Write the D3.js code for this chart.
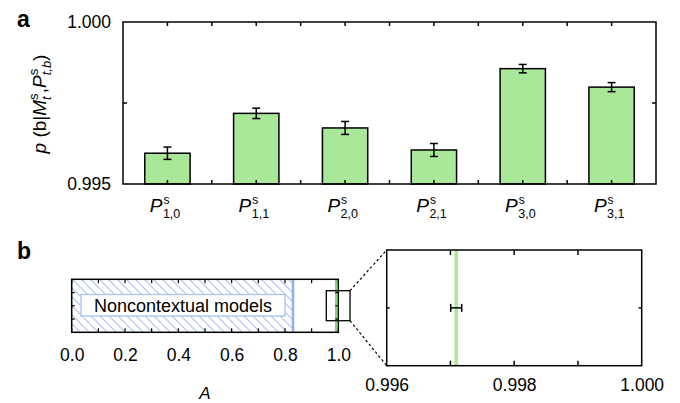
<!DOCTYPE html>
<html lang="en">
<head>
<meta charset="UTF-8">
<title>Contextuality bars</title>
<script src="https://cdn.jsdelivr.net/npm/d3@7"></script>
<style>
  body { margin: 0; background: #fff; }
  text { font-family: "Liberation Sans", Arial, Helvetica, sans-serif; fill: #000; }
</style>
</head>
<body>
<div id="chart"></div>
<script>
// panel a data
const cats = ["1,0", "1,1", "2,0", "2,1", "3,0", "3,1"];
const probs = [0.99595, 0.99718, 0.99673, 0.99605, 0.99856, 0.99799];
const errs = [0.00019, 0.00016, 0.00020, 0.00020, 0.00013, 0.00014];
const yTicks = [0.995, 1.000];
const yMinor = [0.9975];

// panel b data
const aValue = 0.99709;
const aErr = 0.000086;
const ncBound = 0.83;
const bTicks = [0.0, 0.2, 0.4, 0.6, 0.8, 1.0];
const bMinor = [0.0, 0.1, 0.2, 0.3, 0.4, 0.5, 0.6, 0.7, 0.8, 0.9, 1.0];
const zoomRange = [0.955, 1.044];
const insetTicks = [0.996, 0.998, 1.000];
const insetMinor = [0.997, 0.998, 0.999];

const W = 680, H = 403;
const green = "#a8e898", blue = "#8fb0f2", hatch = "#a9c0f4";

const svg = d3.select("#chart").append("svg")
  .attr("width", W).attr("height", H);

const defs = svg.append("defs");
defs.append("pattern")
  .attr("id", "hatch")
  .attr("patternUnits", "userSpaceOnUse")
  .attr("width", 9).attr("height", 9)
  .append("path")
  .attr("d", "M0,0L9,9M-3,6L3,12M6,-3L12,3")
  .attr("stroke", hatch)
  .attr("stroke-width", 1.1);

// ---------- panel a ----------
const A = { left: 123, right: 656, top: 22, bottom: 184 };

const x = d3.scaleBand().domain(cats).range([A.left, A.right]).paddingInner(0.49).paddingOuter(0.245);
const y = d3.scaleLinear().domain([0.995, 1.000]).range([A.bottom, A.top]);

svg.append("text").attr("x", 17).attr("y", 27)
  .style("font-size", "23px").style("font-weight", "bold").text("a");

// bars
svg.append("g").selectAll("rect")
  .data(probs)
  .join("rect")
  .attr("x", (d, i) => x(cats[i]))
  .attr("y", d => y(d))
  .attr("width", x.bandwidth())
  .attr("height", d => y(0.995) - y(d))
  .attr("fill", green)
  .attr("stroke", "#000")
  .attr("stroke-width", 1.5);

// error bars
const eb = svg.append("g").attr("stroke", "#000").attr("stroke-width", 1.5);
probs.forEach((p, i) => {
  const cx = x(cats[i]) + x.bandwidth() / 2;
  eb.append("line").attr("x1", cx).attr("x2", cx).attr("y1", y(p - errs[i])).attr("y2", y(p + errs[i]));
  eb.append("line").attr("x1", cx - 4).attr("x2", cx + 4).attr("y1", y(p - errs[i])).attr("y2", y(p - errs[i]));
  eb.append("line").attr("x1", cx - 4).attr("x2", cx + 4).attr("y1", y(p + errs[i])).attr("y2", y(p + errs[i]));
});

// frame
svg.append("rect")
  .attr("x", A.left).attr("y", A.top)
  .attr("width", A.right - A.left).attr("height", A.bottom - A.top)
  .attr("fill", "none").attr("stroke", "#000").attr("stroke-width", 1.5);

// inward ticks at band centres and boundaries
const half = x.step() / 2;
const xTickPos = [];
cats.forEach(c => { xTickPos.push(x(c) + x.bandwidth() / 2); xTickPos.push(x(c) + x.bandwidth() / 2 + half); });
const tk = svg.append("g").attr("stroke", "#000").attr("stroke-width", 1.5);
xTickPos.filter(v => v < A.right - 2).forEach(v => {
  tk.append("line").attr("x1", v).attr("x2", v).attr("y1", A.bottom).attr("y2", A.bottom - 4);
  tk.append("line").attr("x1", v).attr("x2", v).attr("y1", A.top).attr("y2", A.top + 4);
});
yMinor.forEach(v => {
  tk.append("line").attr("x1", A.left).attr("x2", A.left + 4).attr("y1", y(v)).attr("y2", y(v));
  tk.append("line").attr("x1", A.right).attr("x2", A.right - 4).attr("y1", y(v)).attr("y2", y(v));
});

// y labels
const yAxis = svg.append("g")
  .attr("transform", "translate(" + A.left + ",0)")
  .call(d3.axisLeft(y).tickValues(yTicks).tickFormat(d3.format(".3f")).tickSize(0).tickPadding(12));
yAxis.select(".domain").remove();
yAxis.selectAll("text").style("font-size", "17.5px").style("font-family", "Liberation Sans, Arial, sans-serif");

// x labels P^s_{t,b}: main letter, superscript and subscript as separate texts
cats.forEach(c => {
  const cx = x(c) + x.bandwidth() / 2;
  svg.append("text")
    .attr("x", cx - 5).attr("y", 212)
    .attr("text-anchor", "end")
    .style("font-size", "19px").style("font-style", "italic")
    .text("P");
  svg.append("text")
    .attr("x", cx - 4).attr("y", 204)
    .style("font-size", "12px")
    .text("s");
  svg.append("text")
    .attr("x", cx - 4.5).attr("y", 218)
    .style("font-size", "12.5px")
    .text(c);
});

// y title
const yt = svg.append("text")
  .attr("transform", "translate(46,104) rotate(-90)")
  .attr("text-anchor", "middle")
  .style("font-size", "19px");
yt.append("tspan").style("font-style", "italic").text("p");
yt.append("tspan").text(" (b|");
yt.append("tspan").style("font-style", "italic").text("M");
yt.append("tspan").attr("dy", -8).style("font-size", "13px").text("s");
yt.append("tspan").attr("dx", -6.5).attr("dy", 13).style("font-size", "13px").style("font-style", "italic").text("t");
yt.append("tspan").attr("dx", 3).attr("dy", -5).text(",");
yt.append("tspan").style("font-style", "italic").text("P");
yt.append("tspan").attr("dy", -8).style("font-size", "13px").text("s");
yt.append("tspan").attr("dx", -6.5).attr("dy", 13).style("font-size", "13px").style("font-style", "italic").text("t,b");
yt.append("tspan").attr("dy", -5).text(")");

// ---------- panel b ----------
svg.append("text").attr("x", 17).attr("y", 259)
  .style("font-size", "23px").style("font-weight", "bold").text("b");

const B = { left: 71.7, right: 338.3, top: 279.3, bottom: 332.3 };
const xb = d3.scaleLinear().domain([0, 1]).range([B.left, B.right]);

// hatched noncontextual region
svg.append("rect")
  .attr("x", xb(0)).attr("y", B.top)
  .attr("width", xb(ncBound) - xb(0)).attr("height", B.bottom - B.top)
  .attr("fill", "url(#hatch)");
svg.append("line")
  .attr("x1", xb(ncBound)).attr("x2", xb(ncBound))
  .attr("y1", B.top).attr("y2", B.bottom)
  .attr("stroke", blue).attr("stroke-width", 2.5);

// label box
svg.append("rect")
  .attr("x", 81).attr("y", 294.5).attr("width", 204).attr("height", 21.5)
  .attr("fill", "#fff").attr("stroke", hatch).attr("stroke-width", 1.3);
svg.append("text")
  .attr("x", 183).attr("y", 311.5)
  .attr("text-anchor", "middle")
  .style("font-size", "18px")
  .text("Noncontextual models");

// measured value
svg.append("line")
  .attr("x1", xb(aValue) - 1.5).attr("x2", xb(aValue) - 1.5)
  .attr("y1", B.top).attr("y2", B.bottom)
  .attr("stroke", "#7fd86f").attr("stroke-width", 2);

// frame
svg.append("rect")
  .attr("x", B.left).attr("y", B.top)
  .attr("width", B.right - B.left).attr("height", B.bottom - B.top)
  .attr("fill", "none").attr("stroke", "#000").attr("stroke-width", 1.5);

const tb = svg.append("g").attr("stroke", "#000").attr("stroke-width", 1.2);
bMinor.forEach(v => {
  tb.append("line").attr("x1", xb(v)).attr("x2", xb(v)).attr("y1", B.top).attr("y2", B.top + 4);
  tb.append("line").attr("x1", xb(v)).attr("x2", xb(v)).attr("y1", B.bottom).attr("y2", B.bottom - 4);
});
[0.25, 0.5, 0.75].forEach(f => {
  const yy = B.top + f * (B.bottom - B.top);
  tb.append("line").attr("x1", B.left).attr("x2", B.left + 3).attr("y1", yy).attr("y2", yy);
  tb.append("line").attr("x1", B.right).attr("x2", B.right - 3).attr("y1", yy).attr("y2", yy);
});

// zoom rectangle
const zTop = 290.7, zBot = 320.7;
svg.append("rect")
  .attr("x", xb(zoomRange[0])).attr("y", zTop)
  .attr("width", xb(zoomRange[1]) - xb(zoomRange[0])).attr("height", zBot - zTop)
  .attr("fill", "none").attr("stroke", "#000").attr("stroke-width", 1.3);

const xbAxis = svg.append("g")
  .attr("transform", "translate(0," + B.bottom + ")")
  .call(d3.axisBottom(xb).tickValues(bTicks).tickFormat(d3.format(".1f")).tickSize(0).tickPadding(16));
xbAxis.select(".domain").remove();
xbAxis.selectAll("text").style("font-size", "17.5px").style("font-family", "Liberation Sans, Arial, sans-serif");

svg.append("text")
  .attr("x", xb(0.5)).attr("y", 399)
  .attr("text-anchor", "middle")
  .style("font-size", "17px").style("font-style", "italic")
  .text("A");

// inset
const I = { left: 386.7, right: 641.7, top: 250, bottom: 365.7 };
const xi = d3.scaleLinear().domain([0.996, 1.000]).range([I.left, I.right]);
const yMid = (I.top + I.bottom) / 2;

// dotted connectors
svg.append("line")
  .attr("x1", xb(zoomRange[1])).attr("y1", zTop).attr("x2", I.left).attr("y2", I.top)
  .attr("stroke", "#000").attr("stroke-width", 1.2).attr("stroke-dasharray", "2.5,2.5");
svg.append("line")
  .attr("x1", xb(zoomRange[1])).attr("y1", zBot).attr("x2", I.left).attr("y2", I.bottom)
  .attr("stroke", "#000").attr("stroke-width", 1.2).attr("stroke-dasharray", "2.5,2.5");

svg.append("line")
  .attr("x1", xi(aValue)).attr("x2", xi(aValue))
  .attr("y1", I.top).attr("y2", I.bottom)
  .attr("stroke", green).attr("stroke-width", 3.5);

const ie = svg.append("g").attr("stroke", "#000").attr("stroke-width", 1.5);
ie.append("line").attr("x1", xi(aValue - aErr)).attr("x2", xi(aValue + aErr)).attr("y1", yMid).attr("y2", yMid);
ie.append("line").attr("x1", xi(aValue - aErr)).attr("x2", xi(aValue - aErr)).attr("y1", yMid - 4).attr("y2", yMid + 4);
ie.append("line").attr("x1", xi(aValue + aErr)).attr("x2", xi(aValue + aErr)).attr("y1", yMid - 4).attr("y2", yMid + 4);

svg.append("rect")
  .attr("x", I.left).attr("y", I.top)
  .attr("width", I.right - I.left).attr("height", I.bottom - I.top)
  .attr("fill", "none").attr("stroke", "#000").attr("stroke-width", 1.5);

const ti = svg.append("g").attr("stroke", "#000").attr("stroke-width", 1.5);
insetMinor.forEach(v => {
  ti.append("line").attr("x1", xi(v)).attr("x2", xi(v)).attr("y1", I.top).attr("y2", I.top + 5);
  ti.append("line").attr("x1", xi(v)).attr("x2", xi(v)).attr("y1", I.bottom).attr("y2", I.bottom - 5);
});
ti.append("line").attr("x1", I.left).attr("x2", I.left + 3).attr("y1", yMid).attr("y2", yMid);
ti.append("line").attr("x1", I.right).attr("x2", I.right - 3).attr("y1", yMid).attr("y2", yMid);

const xiAxis = svg.append("g")
  .attr("transform", "translate(0," + I.bottom + ")")
  .call(d3.axisBottom(xi).tickValues(insetTicks).tickFormat(d3.format(".3f")).tickSize(0).tickPadding(13));
xiAxis.select(".domain").remove();
xiAxis.selectAll("text").style("font-size", "17.5px").style("font-family", "Liberation Sans, Arial, sans-serif");
</script>
</body>
</html>
